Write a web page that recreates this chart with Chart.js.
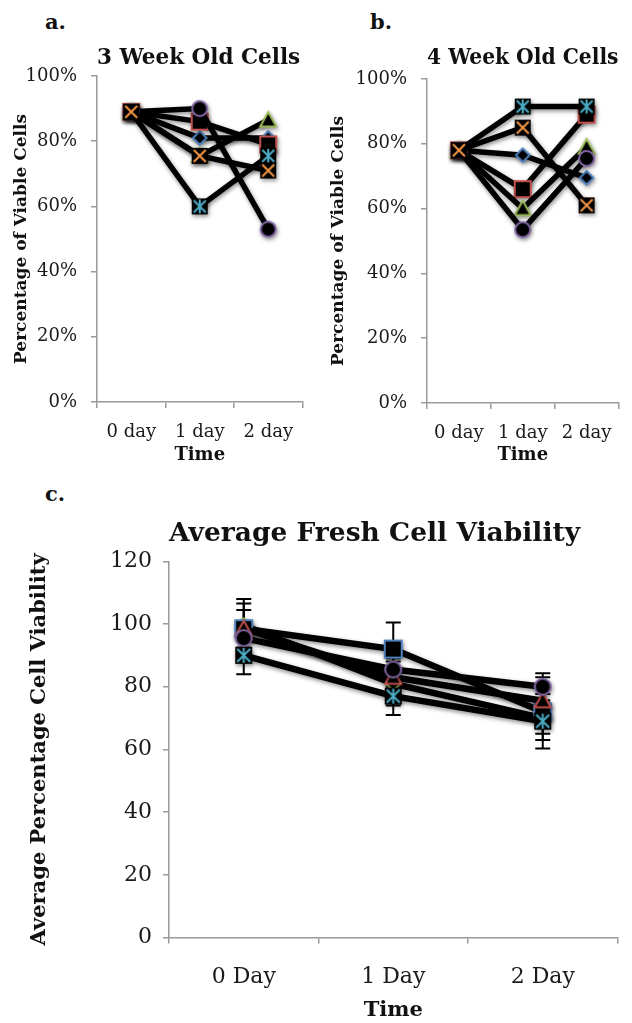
<!DOCTYPE html>
<html>
<head>
<meta charset="utf-8">
<script src="https://cdn.jsdelivr.net/npm/chart.js@4.4.1/dist/chart.umd.min.js"></script>
<style>
  body { margin: 0; background: #fff; width: 632px; height: 1023px; position: relative; overflow: hidden; }
  canvas { position: absolute; }
  .tag { position: absolute; font: bold 21px "DejaVu Serif", serif; color: #111; }
</style>
</head>
<body>
<div class="tag" style="left:45px;top:9px">a.</div>
<div class="tag" style="left:370px;top:9px">b.</div>
<div class="tag" style="left:45px;top:481px">c.</div>
<canvas id="chartA" width="316" height="470" style="left:0;top:0"></canvas>
<canvas id="chartB" width="316" height="470" style="left:316px;top:0"></canvas>
<canvas id="chartC" width="632" height="543" style="left:0;top:480px"></canvas>
<script>
const dayLabels = ['0 day', '1 day', '2 day'];
const dayLabelsC = ['0 Day', '1 Day', '2 Day'];

// a. 3 week old cells, % viable
const week3Diamond = [89, 81, 81];
const week3Square = [89, 86, 79];
const week3Triangle = [89, 75.5, 86.5];
const week3Star = [89, 60, 75.5];
const week3Circle = [89, 90, 53];
const week3Cross = [89, 75.5, 71];

// b. 4 week old cells, % viable
const week4Diamond = [78, 76.5, 69.5];
const week4Square = [78, 66, 89];
const week4Triangle = [78, 60, 79];
const week4Star = [78, 91.5, 91.5];
const week4Circle = [78, 53.5, 75.5];
const week4Cross = [78, 85, 61];

// c. average fresh cell viability, with error
const freshSquare = [98.5, 92, 72];
const freshTriangle = [98.5, 83, 75.5];
const freshDiamond = [99.5, 81, 70];
const freshCircle = [95.5, 85.5, 80];
const freshStar = [90, 77, 69];
const freshSquareErr = [9.5, 8.5, 9];
const freshTriangleErr = [8, 3, 7.5];
const freshDiamondErr = [5, 7, 5];
const freshCircleErr = [3, 3.5, 4.3];
const freshStarErr = [6, 6, 8.7];

const pctTicks = [0, 20, 40, 60, 80, 100];
const cTicks = [0, 20, 40, 60, 80, 100, 120];

const BLUE = '#4f81bd', RED = '#c0504d', GREEN = '#9bbb59', PURPLE = '#8064a2', CYAN = '#4bacc6', ORANGE = '#f79646';
const SERIF = '"DejaVu Serif", serif';
const AXIS = '#9a9a9a';

// little marker images: black fill with coloured edge, like the office defaults
function marker(shape, color, size) {
  const c = document.createElement('canvas');
  c.width = c.height = size + 4;
  const g = c.getContext('2d');
  const m = c.width / 2, h = size / 2;
  g.fillStyle = '#000';
  g.strokeStyle = color;
  g.lineWidth = 2;
  g.beginPath();
  if (shape === 'square') {
    g.rect(m - h, m - h, size, size);
    g.fill(); g.stroke();
  } else if (shape === 'diamond') {
    const d = h * 0.85;
    g.moveTo(m, m - d); g.lineTo(m + d, m); g.lineTo(m, m + d); g.lineTo(m - d, m); g.closePath();
    g.fill(); g.stroke();
  } else if (shape === 'triangle') {
    g.moveTo(m, m - h); g.lineTo(m + h, m + h * 0.8); g.lineTo(m - h, m + h * 0.8); g.closePath();
    g.fill(); g.stroke();
  } else if (shape === 'circle') {
    g.arc(m, m, h, 0, Math.PI * 2);
    g.fill(); g.stroke();
  } else {
    g.fillRect(m - h, m - h, size, size);
    const k = h - 2;
    g.beginPath();
    g.moveTo(m - k, m - k); g.lineTo(m + k, m + k);
    g.moveTo(m + k, m - k); g.lineTo(m - k, m + k);
    if (shape === 'star') { g.moveTo(m, m - k - 1); g.lineTo(m, m + k + 1); }
    g.stroke();
  }
  return c;
}

const shadowPlugin = {
  id: 'shadow',
  beforeDatasetsDraw(chart) {
    const ctx = chart.ctx;
    ctx.save();
    ctx.shadowColor = 'rgba(0,0,0,0.45)';
    ctx.shadowBlur = 4;
    ctx.shadowOffsetX = 1;
    ctx.shadowOffsetY = 2;
  },
  afterDatasetsDraw(chart) {
    chart.ctx.restore();
  }
};

const errorBarPlugin = {
  id: 'errorBars',
  beforeDatasetsDraw(chart) {
    const ctx = chart.ctx;
    const xs = chart.scales.x, ys = chart.scales.y;
    ctx.save();
    ctx.strokeStyle = '#000';
    ctx.lineWidth = 2;
    chart.data.datasets.forEach(ds => {
      if (!ds.errors) return;
      ds.data.forEach((v, i) => {
        const x = xs.getPixelForValue(i);
        const top = ys.getPixelForValue(v + ds.errors[i]);
        const bot = ys.getPixelForValue(v - ds.errors[i]);
        ctx.beginPath();
        ctx.moveTo(x, top); ctx.lineTo(x, bot);
        ctx.moveTo(x - 7.5, top); ctx.lineTo(x + 7.5, top);
        ctx.moveTo(x - 7.5, bot); ctx.lineTo(x + 7.5, bot);
        ctx.stroke();
      });
    });
    ctx.restore();
  }
};

function series(data, shape, color, width, size) {
  return {
    data: data,
    borderColor: '#000',
    borderWidth: width,
    tension: 0,
    fill: false,
    pointStyle: marker(shape, color, size),
    pointRadius: 8
  };
}

function smallChart(id, title, data, geo) {
  return new Chart(document.getElementById(id), {
    type: 'line',
    data: {
      labels: dayLabels,
      // first entry is drawn on top
      datasets: [
        series(data.cross, 'cross', ORANGE, 5.5, 16),
        series(data.circle, 'circle', PURPLE, 5.5, 15),
        series(data.star, 'star', CYAN, 5.5, 16),
        series(data.triangle, 'triangle', GREEN, 5.5, 16),
        series(data.square, 'square', RED, 5.5, 16),
        series(data.diamond, 'diamond', BLUE, 5.5, 16)
      ]
    },
    options: {
      responsive: false,
      animation: false,
      events: [],
      layout: { padding: { top: geo.padTop, right: geo.padRight, left: 0, bottom: 0 } },
      plugins: {
        legend: { display: false },
        tooltip: { enabled: false },
        title: {
          display: true,
          text: title,
          align: 'start',
          fullSize: false,
          color: '#111',
          font: { family: SERIF, size: 21.5, weight: 'bold', lineHeight: 1.2 },
          padding: { top: 0, bottom: geo.titleGap }
        }
      },
      scales: {
        x: {
          offset: true,
          grid: { offset: true, drawOnChartArea: false, tickLength: 6, color: AXIS, lineWidth: 1.5 },
          border: { color: AXIS, width: 1.5 },
          ticks: { color: '#1a1a1a', font: { family: SERIF, size: 18 }, padding: 14 },
          title: { display: true, text: 'Time', color: '#111', font: { family: SERIF, size: 18, weight: 'bold' }, padding: { top: 0, bottom: 4 } },
          afterFit: s => { s.height = geo.xHeight; }
        },
        y: {
          min: 0,
          max: 100,
          afterBuildTicks: s => { s.ticks = pctTicks.map(v => ({ value: v })); },
          grid: { drawOnChartArea: false, tickLength: 6, color: AXIS, lineWidth: 1.5 },
          border: { color: AXIS, width: 1.5 },
          ticks: { color: '#1a1a1a', font: { family: SERIF, size: 18 }, padding: 14, callback: v => v + '%' },
          title: { display: true, text: 'Percentage of Viable Cells', color: '#111', font: { family: SERIF, size: 17, weight: 'bold' }, padding: { top: geo.yTitlePad, bottom: 0 } },
          afterFit: s => { s.width = geo.yWidth; }
        }
      }
    },
    plugins: [shadowPlugin]
  });
}

smallChart('chartA', '3 Week Old Cells', {
  diamond: week3Diamond, square: week3Square, triangle: week3Triangle,
  star: week3Star, circle: week3Circle, cross: week3Cross
}, { padTop: 46, titleGap: 4.2, padRight: 5, xHeight: 68, yWidth: 97, yTitlePad: 11 });

smallChart('chartB', '4 Week Old Cells', {
  diamond: week4Diamond, square: week4Square, triangle: week4Triangle,
  star: week4Star, circle: week4Circle, cross: week4Cross
}, { padTop: 46, titleGap: 7.2, padRight: 9, xHeight: 67, yWidth: 111, yTitlePad: 12 });

function withErr(ds, err) { ds.errors = err; return ds; }

new Chart(document.getElementById('chartC'), {
  type: 'line',
  data: {
    labels: dayLabelsC,
    datasets: [
      withErr(series(freshStar, 'star', CYAN, 6.5, 17), freshStarErr),
      withErr(series(freshCircle, 'circle', PURPLE, 6.5, 16), freshCircleErr),
      withErr(series(freshTriangle, 'triangle', RED, 6.5, 16), freshTriangleErr),
      withErr(series(freshSquare, 'square', BLUE, 6.5, 17), freshSquareErr),
      withErr(series(freshDiamond, 'diamond', GREEN, 6.5, 17), freshDiamondErr)
    ]
  },
  options: {
    responsive: false,
    animation: false,
    events: [],
    layout: { padding: { top: 38, right: 8, left: 0, bottom: 0 } },
    plugins: {
      legend: { display: false },
      tooltip: { enabled: false },
      title: {
        display: true,
        text: 'Average Fresh Cell Viability',
        align: 'start',
        fullSize: false,
        color: '#111',
        font: { family: SERIF, size: 26.5, weight: 'bold', lineHeight: 1.2 },
        padding: { top: 0, bottom: 11.5 }
      }
    },
    scales: {
      x: {
        offset: true,
        grid: { offset: true, drawOnChartArea: false, tickLength: 6, color: AXIS, lineWidth: 1.5 },
        border: { color: AXIS, width: 1.5 },
        ticks: { color: '#1a1a1a', font: { family: SERIF, size: 22 }, padding: 21 },
        title: { display: true, text: 'Time', color: '#111', font: { family: SERIF, size: 21, weight: 'bold' }, padding: { top: 0, bottom: 0 } },
        afterFit: s => { s.height = 85.5; }
      },
      y: {
        min: 0,
        max: 120,
        afterBuildTicks: s => { s.ticks = cTicks.map(v => ({ value: v })); },
        grid: { drawOnChartArea: false, tickLength: 6, color: AXIS, lineWidth: 1.5 },
        border: { color: AXIS, width: 1.5 },
        ticks: { color: '#1a1a1a', font: { family: SERIF, size: 22 }, padding: 11 },
        title: { display: true, text: 'Average Percentage Cell Viability', color: '#111', font: { family: SERIF, size: 21, weight: 'bold' }, padding: { top: 27, bottom: 0 } },
        afterFit: s => { s.width = 169; }
      }
    }
  },
  plugins: [errorBarPlugin, shadowPlugin]
});
</script>
</body>
</html>
